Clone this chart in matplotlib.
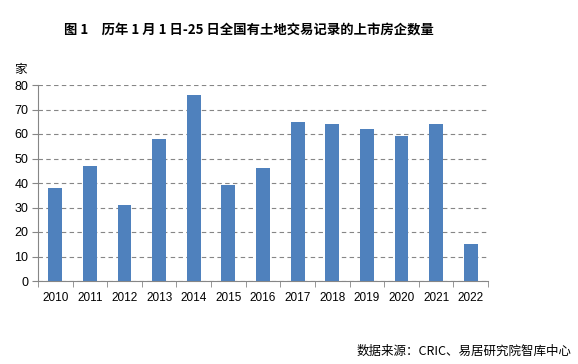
import matplotlib
matplotlib.use("Agg")
import matplotlib.pyplot as plt

plt.rcParams['font.family'] = ['Noto Sans CJK SC', 'DejaVu Sans']

years = ['2010', '2011', '2012', '2013', '2014', '2015', '2016', '2017', '2018', '2019', '2020', '2021', '2022']
counts = [38, 47, 31, 58, 76, 39, 46, 65, 64, 62, 59, 64, 15]
yticks = [0, 10, 20, 30, 40, 50, 60, 70, 80]

fig = plt.figure(figsize=(5.78, 3.64), dpi=100)
ax = fig.add_axes([38/578, 1-281/364, (488-38)/578, (281-85)/364])

x = list(range(len(years)))
ax.bar(x, counts, width=0.4, color='#4F81BD', zorder=3)
ax.set_xlim(-0.5, len(years) - 0.5)
ax.set_ylim(0, 80)
ax.set_yticks(yticks)
ax.set_xticks(x)
ax.set_xticklabels(years, fontsize=8.5, family=['Liberation Sans', 'DejaVu Sans'])
ax.set_yticklabels([str(v) for v in yticks], fontsize=9, family=['Liberation Sans', 'DejaVu Sans'])
ax.set_xticks([i - 0.5 for i in range(len(years) + 1)], minor=True)
ax.tick_params(axis='x', which='major', length=0, pad=8)
ax.tick_params(axis='x', which='minor', length=4, color='#868686', direction='out')
ax.tick_params(axis='y', length=4, color='#868686', direction='out', pad=3)
ax.grid(axis='y', color='#868686', linestyle=(0, (4, 3)), linewidth=0.8, zorder=0)
for s in ['top', 'right']:
    ax.spines[s].set_visible(False)
for s in ['left', 'bottom']:
    ax.spines[s].set_color('#868686')

fig.text(64/578, 1-30/364, '图 1　历年 1 月 1 日-25 日全国有土地交易记录的上市房企数量', ha='left', va='center',
         fontsize=9.6, fontweight='bold')
fig.text(14/578, 1-70/364, '家', ha='left', va='center', fontsize=9)
fig.text(357/578, 1-351/364, '数据来源：CRIC、易居研究院智库中心', ha='left', va='center', fontsize=9)

fig.savefig('out.png', dpi=100)
